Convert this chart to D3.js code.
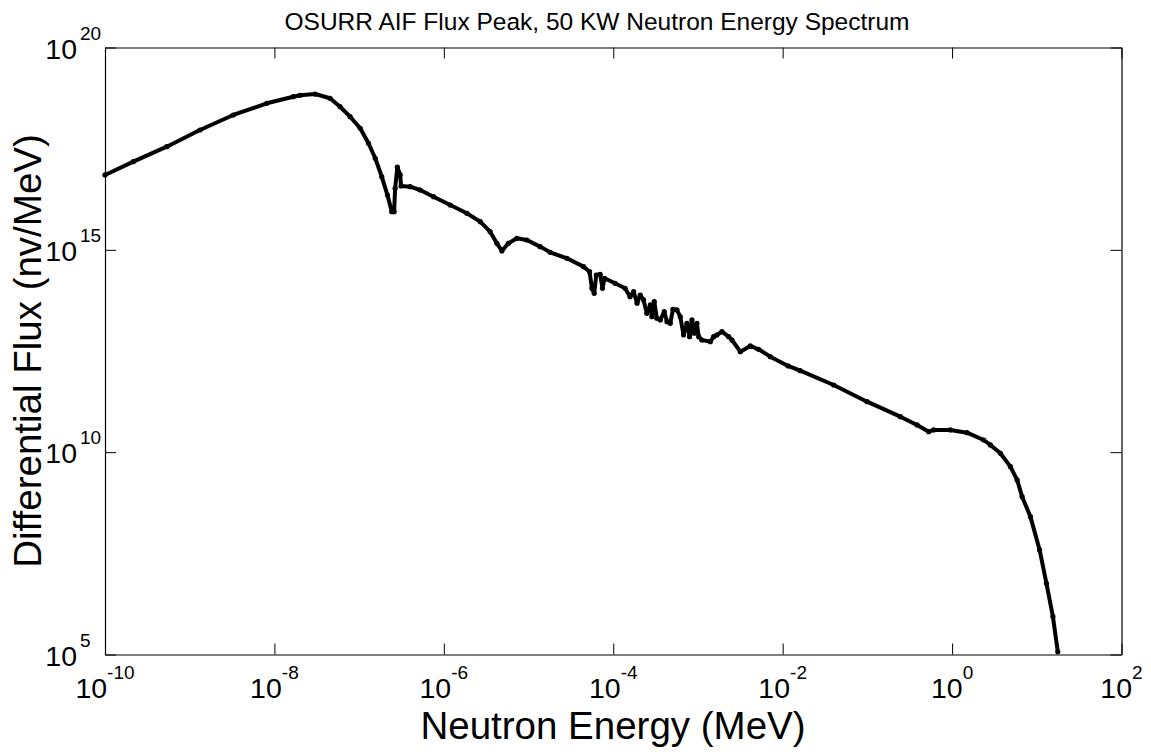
<!DOCTYPE html>
<html><head><meta charset="utf-8">
<script src="https://cdn.jsdelivr.net/npm/d3@7"></script>
<style>body{margin:0;background:#fff;} svg{display:block;font-family:Arial,"Liberation Sans",Helvetica,sans-serif;}</style>
</head><body>
<script>
const title = "OSURR AIF Flux Peak, 50 KW Neutron Energy Spectrum";
const xLabel = "Neutron Energy (MeV)";
const yLabel = "Differential Flux (nv/MeV)";
const xTickExps = [-10, -8, -6, -4, -2, 0, 2];
const yTickExps = [5, 10, 15, 20];

const energy = [1e-10,2.16e-10,5.36e-10,1.32e-9,3.27e-9,8.13e-9,1.67e-8,2.01e-8,3.02e-8,4.54e-8,
5.96e-8,7.83e-8,1.03e-7,1.29e-7,1.55e-7,1.85e-7,2.16e-7,2.43e-7,2.59e-7,2.66e-7,
2.83e-7,3.05e-7,3.13e-7,4.00e-7,5.25e-7,7.55e-7,1.19e-6,1.87e-6,2.69e-6,3.52e-6,
4.23e-6,4.84e-6,5.79e-6,7.28e-6,9.55e-6,1.37e-5,1.80e-5,2.84e-5,4.46e-5,5.25e-5,
5.60e-5,5.96e-5,6.30e-5,7.01e-5,7.46e-5,7.89e-5,1.05e-4,1.38e-4,1.58e-4,1.74e-4,
1.91e-4,2.08e-4,2.28e-4,2.49e-4,2.74e-4,2.86e-4,3.05e-4,3.27e-4,3.59e-4,4.00e-4,
4.31e-4,4.71e-4,5.07e-4,5.65e-4,6.18e-4,6.76e-4,7.41e-4,7.96e-4,8.49e-4,9.04e-4,
9.72e-4,1.02e-3,1.11e-3,1.40e-3,1.53e-3,1.67e-3,1.92e-3,2.30e-3,2.52e-3,3.16e-3,
4.15e-3,5.20e-3,7.14e-3,1.16e-2,1.61e-2,4.00e-2,9.91e-2,2.45e-1,3.86e-1,5.30e-1,
6.07e-1,9.55e-1,1.50,2.36,2.83,3.72,4.88,5.86,6.71,8.41,
10.8,13.0,15.5,17.7];

const flux = [7.08e16,1.51e17,3.54e17,9.14e17,2.15e18,4.18e18,6.08e18,6.61e18,7.08e18,5.56e18,
3.44e18,1.95e18,1.01e18,4.30e17,1.83e17,6.43e16,2.26e16,8.77e15,8.77e15,3.32e16,
1.10e17,7.08e16,3.78e16,3.64e16,3.01e16,2.06e16,1.28e16,8.00e15,4.97e15,2.81e15,
1.45e15,9.38e14,1.45e15,1.93e15,1.75e15,1.20e15,8.71e14,6.18e14,3.84e14,2.88e14,
1.12e14,8.43e13,2.39e14,2.48e14,1.12e14,1.98e14,1.49e14,1.12e14,6.95e13,9.25e13,
4.78e13,7.66e13,5.77e13,2.70e13,4.34e13,2.23e13,5.24e13,2.04e13,1.85e13,2.96e13,
1.68e13,1.53e13,3.40e13,3.27e13,2.23e13,7.87e12,1.53e13,7.14e12,1.85e13,8.67e12,
1.53e13,7.14e12,5.92e12,5.38e12,7.14e12,7.87e12,9.51e12,7.14e12,5.92e12,3.05e12,
4.21e12,3.49e12,2.29e12,1.35e12,1.03e12,4.57e11,1.77e11,7.53e10,4.70e10,3.21e10,
3.54e10,3.54e10,3.03e10,2.00e10,1.51e10,9.40e9,4.39e9,2.06e9,7.94e8,2.55e8,
3.83e7,5.75e6,8.63e5,1.17e5];

const W = 1151, H = 755;
const L = 105, R = 1121.5, T = 47.5, B = 654.5;
const svg = d3.select("body").append("svg").attr("width", W).attr("height", H);

const x = d3.scaleLog().domain([1e-10, 1e2]).range([L, R]);
const y = d3.scaleLog().domain([1e5, 1e20]).range([B, T]);
const xt = xTickExps.map(e => Math.pow(10, e));
const yt = yTickExps.map(e => Math.pow(10, e));
const TL = 11;

function styleAxis(g){ g.selectAll("path").attr("stroke","#000").attr("stroke-width",1.2);
  g.selectAll("line").attr("stroke","#000").attr("stroke-width",1); g.selectAll("text").remove(); }

svg.append("g").attr("transform",`translate(0,${B})`)
  .call(d3.axisBottom(x).tickValues(xt).tickSizeInner(-TL).tickSizeOuter(0).tickFormat("")).call(styleAxis);
svg.append("g").attr("transform",`translate(0,${T})`)
  .call(d3.axisTop(x).tickValues(xt).tickSizeInner(-TL).tickSizeOuter(0).tickFormat("")).call(styleAxis);
svg.append("g").attr("transform",`translate(${L},0)`)
  .call(d3.axisLeft(y).tickValues(yt).tickSizeInner(-TL).tickSizeOuter(0).tickFormat("")).call(styleAxis);
svg.append("g").attr("transform",`translate(${R},0)`)
  .call(d3.axisRight(y).tickValues(yt).tickSizeInner(-TL).tickSizeOuter(0).tickFormat("")).call(styleAxis);

// x tick labels
xTickExps.forEach(e => {
  const t = svg.append("text").attr("x", x(Math.pow(10,e))).attr("y", 698)
    .attr("text-anchor","middle").attr("font-size",28.5).attr("fill","#000");
  t.append("tspan").text("10");
  t.append("tspan").attr("dy",-19).attr("font-size",19).text(String(e));
});
// y tick labels
yTickExps.forEach(e => {
  const yy = y(Math.pow(10,e));
  svg.append("text").attr("x",77).attr("y",yy+11).attr("text-anchor","end")
    .attr("font-size",28.5).attr("fill","#000").text("10");
  svg.append("text").attr("x",80).attr("y",yy-8).attr("text-anchor","start")
    .attr("font-size",19).attr("fill","#000").text(String(e));
});

// data line
const pts = energy.map((e,i)=>[e, flux[i]]);
const line = d3.line().x(d=>x(d[0])).y(d=>y(d[1]));
svg.append("path").datum(pts).attr("d",line).attr("fill","none")
  .attr("stroke","#000").attr("stroke-width",4).attr("stroke-linejoin","round").attr("stroke-linecap","round");
svg.append("g").selectAll("circle").data(pts).join("circle")
  .attr("cx",d=>x(d[0])).attr("cy",d=>y(d[1])).attr("r",2.6).attr("fill","#000");

// titles
svg.append("text").attr("x",597).attr("y",30).attr("text-anchor","middle")
  .attr("font-size",24.5).attr("fill","#000").text(title);
svg.append("text").attr("x",613).attr("y",739).attr("text-anchor","middle")
  .attr("font-size",38.5).attr("fill","#000").text(xLabel);
svg.append("text").attr("transform",`translate(41,${(T+B)/2}) rotate(-90)`).attr("text-anchor","middle")
  .attr("font-size",38.5).attr("fill","#000").text(yLabel);
</script>
</body></html>
